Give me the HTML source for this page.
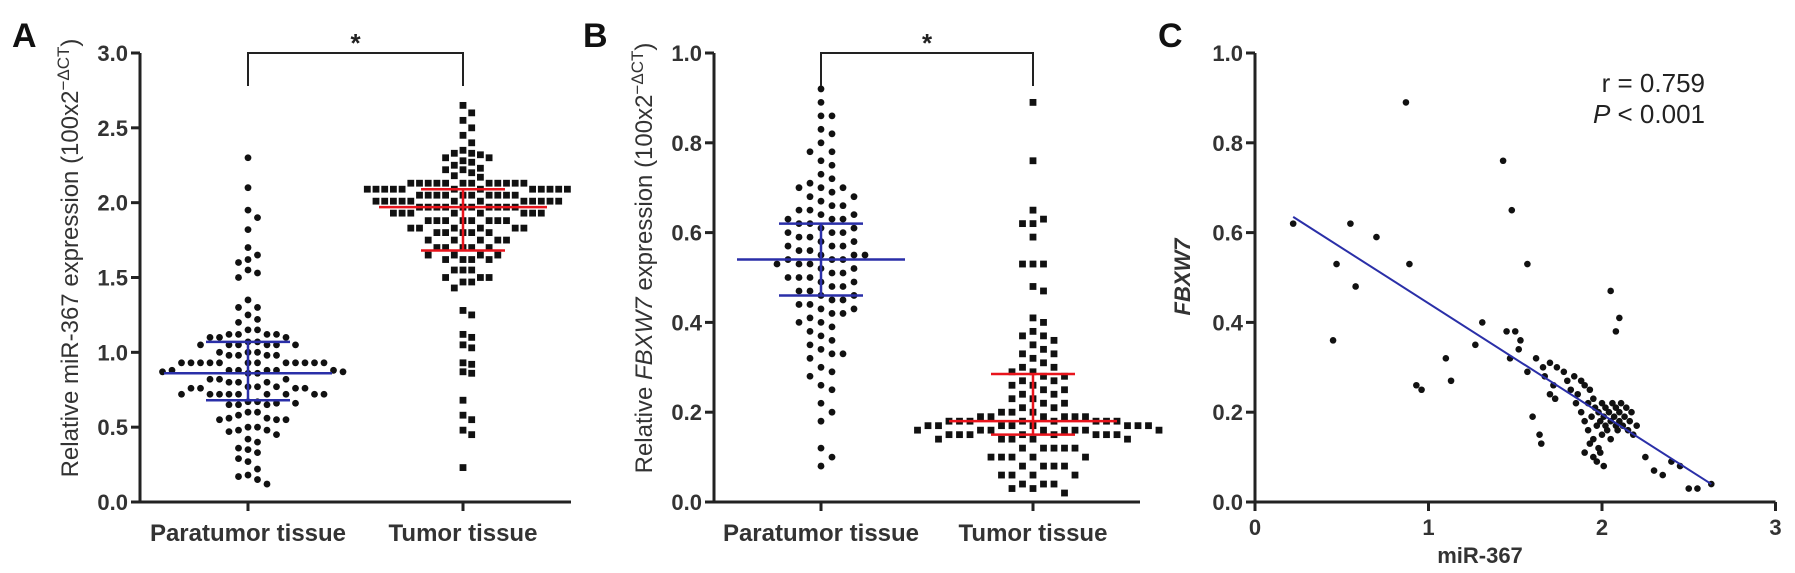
<!DOCTYPE html>
<html><head><meta charset="utf-8">
<style>
html,body{margin:0;padding:0;background:#fff;}
svg{display:block;font-family:"Liberation Sans",Arial,sans-serif;}
</style></head>
<body>
<svg id="fig" width="1795" height="573" viewBox="0 0 1795 573">
<g id="layer"></g>
</svg>
<script>
// ---------- DATA ----------
const aCategories = ["Paratumor tissue", "Tumor tissue"];
const aTicks = ["0.0","0.5","1.0","1.5","2.0","2.5","3.0"];
const aPara = [2.30,2.10,1.95,1.90,1.82,1.70,1.65,1.62,1.60,1.55,1.53,1.50,1.35,1.30,1.30,1.25,1.22,1.20,
1.15,1.15,1.12,1.12,1.12,1.12,1.10,1.10,1.10,1.07,1.07,1.05,1.05,1.05,1.05,1.05,1.05,
1.00,1.00,1.00,0.98,0.98,0.98,0.98,0.93,0.93,0.93,0.93,0.93,0.93,0.93,0.93,0.93,0.93,0.93,0.93,
0.88,0.88,0.88,0.88,0.88,0.88,0.87,0.87,0.86,0.86,0.82,0.82,0.82,0.80,0.80,0.80,
0.77,0.77,0.77,0.76,0.76,0.76,0.76,0.72,0.72,0.72,0.72,0.72,0.72,0.72,0.72,0.72,
0.67,0.67,0.66,0.66,0.65,0.65,0.65,0.60,0.60,0.58,0.56,0.56,0.55,0.55,0.55,
0.50,0.50,0.48,0.48,0.47,0.45,0.42,0.40,0.36,0.35,0.33,0.29,0.27,0.22,0.18,0.17,0.15,0.12];
const aTumor = [2.65,2.60,2.55,2.50,2.45,2.40,2.35,2.33,2.33,2.32,2.30,2.30,2.28,2.27,2.25,2.23,2.22,2.22,2.20,2.18,2.17,
2.13,2.13,2.13,2.13,2.13,2.13,2.13,2.13,2.13,2.13,2.13,2.13,
2.09,2.09,2.09,2.09,2.09,2.09,2.09,2.09,2.09,2.09,2.09,2.09,
2.05,2.05,2.05,2.05,2.05,2.05,2.05,2.05,2.05,2.05,
2.01,2.01,2.01,2.01,2.01,2.01,2.01,2.01,2.01,2.01,2.01,2.01,
1.97,1.97,1.97,1.97,1.97,1.97,1.97,1.97,1.97,1.97,
1.93,1.93,1.93,1.93,1.93,1.93,1.93,1.93,1.88,1.88,1.88,1.88,1.88,1.88,1.88,1.88,
1.83,1.83,1.83,1.83,1.83,1.83,1.80,1.80,1.80,1.80,1.80,1.75,1.75,1.75,1.75,1.75,
1.70,1.70,1.70,1.70,1.70,1.65,1.65,1.65,1.65,1.62,1.62,1.62,1.62,1.55,1.55,1.55,1.50,1.50,1.50,1.47,1.47,1.43,
1.28,1.25,1.12,1.10,1.05,1.03,0.93,0.92,0.87,0.86,0.68,0.58,0.55,0.48,0.45,0.23];
const aParaStats = [0.68, 0.86, 1.07];   // q1, median, q3
const aTumorStats = [1.68, 1.97, 2.09];

const bTicks = ["0.0","0.2","0.4","0.6","0.8","1.0"];
const bPara = [0.92,0.89,0.86,0.86,0.83,0.82,0.80,0.78,0.78,0.76,0.75,0.73,0.72,0.71,0.70,0.70,0.70,0.69,0.68,0.68,0.67,0.66,0.66,0.65,0.65,0.64,0.64,0.63,0.63,0.63,0.62,0.62,0.61,0.61,0.60,0.60,0.60,0.59,0.59,0.58,0.58,0.57,0.57,0.57,0.56,0.56,0.55,0.55,0.55,0.54,0.54,0.54,0.53,0.53,0.53,0.52,0.52,0.51,0.51,0.50,0.50,0.50,0.49,0.49,0.48,0.48,0.47,0.47,0.46,0.46,0.45,0.45,0.44,0.44,0.43,0.43,0.42,0.42,0.41,0.40,0.40,0.39,0.38,0.37,0.36,0.35,0.34,0.33,0.33,0.32,0.30,0.29,0.28,0.26,0.25,0.22,0.20,0.18,0.12,0.10,0.08];
const bTumor = [0.89,0.76,0.65,0.63,0.62,0.62,0.59,0.53,0.53,0.53,0.48,0.47,0.41,0.40,0.38,0.37,0.37,0.36,0.35,0.34,0.33,0.33,0.32,0.31,0.30,0.30,0.29,0.29,0.28,0.28,0.27,0.27,0.26,0.26,0.25,0.25,0.24,0.24,0.23,0.23,0.22,0.22,0.21,0.21,0.20,0.20,0.20,
0.19,0.19,0.19,0.19,0.19,0.19,0.18,0.18,0.18,0.18,0.18,0.18,0.18,0.18,0.17,0.17,0.17,0.17,0.17,0.17,0.17,0.17,
0.16,0.16,0.16,0.16,0.16,0.16,0.16,0.16,0.15,0.15,0.15,0.15,0.15,0.15,0.15,0.15,0.14,0.14,0.14,0.14,0.14,
0.12,0.12,0.12,0.12,0.12,0.10,0.10,0.10,0.10,0.10,0.08,0.08,0.08,0.08,0.06,0.06,0.06,0.06,0.04,0.04,0.04,0.03,0.03,0.02];
const bParaStats = [0.46, 0.54, 0.62];
const bTumorStats = [0.15, 0.18, 0.285];

const cXTicks = ["0","1","2","3"];
const cYTicks = ["0.0","0.2","0.4","0.6","0.8","1.0"];
const cX = [0.22,0.45,0.47,0.55,0.58,0.70,0.87,0.89,0.93,0.96,1.10,1.13,1.27,1.31,1.43,1.45,1.48,1.47,1.50,1.52,1.53,1.57,1.57,1.62,1.60,1.64,1.65,1.66,1.67,1.70,1.70,1.72,1.74,1.73,
1.78,1.80,1.82,1.84,1.85,1.86,1.88,1.88,1.90,1.90,1.92,1.92,1.93,1.94,1.95,1.95,1.96,1.97,1.98,1.98,1.99,2.00,2.00,2.01,2.02,2.02,2.03,2.04,2.05,2.05,2.06,2.07,2.08,2.08,2.09,2.10,2.10,2.11,2.12,2.13,2.14,2.15,2.16,2.17,2.18,2.20,1.95,1.97,1.99,2.01,1.90,1.93,
2.05,2.08,2.10,2.25,2.30,2.35,2.40,2.45,2.50,2.55,2.63];
const cY = [0.62,0.36,0.53,0.62,0.48,0.59,0.89,0.53,0.26,0.25,0.32,0.27,0.35,0.40,0.76,0.38,0.65,0.32,0.38,0.34,0.36,0.53,0.29,0.32,0.19,0.15,0.13,0.30,0.28,0.24,0.31,0.26,0.30,0.23,
0.29,0.27,0.25,0.28,0.22,0.24,0.27,0.20,0.26,0.18,0.22,0.16,0.25,0.19,0.23,0.14,0.21,0.17,0.20,0.12,0.18,0.22,0.15,0.19,0.21,0.17,0.16,0.20,0.18,0.14,0.22,0.19,0.17,0.21,0.16,0.18,0.20,0.22,0.17,0.19,0.21,0.16,0.18,0.20,0.15,0.17,0.10,0.09,0.11,0.08,0.11,0.13,
0.47,0.38,0.41,0.10,0.07,0.06,0.09,0.08,0.03,0.03,0.04];
const cFit = [0.22, 0.635, 2.63, 0.04]; // x1,y1,x2,y2
const cStats = ["r = 0.759", "< 0.001"];

// ---------- HELPERS ----------
const NS = "http://www.w3.org/2000/svg";
const layer = document.getElementById("layer");
function mk(tag, attrs, parent){
  const e = document.createElementNS(NS, tag);
  for (const k in attrs) e.setAttribute(k, attrs[k]);
  (parent||layer).appendChild(e);
  return e;
}
const AX = "#222";
const Y0 = 502, Y1 = 53;

function swarm(vals, cx, yfn, d, f){
  const sorted = vals.slice().sort((a,b)=>b-a);
  const placed = [];
  sorted.forEach(v=>{
    const y = yfn(v);
    for (let k=0;k<80;k++){
      const off = k===0?0:(k%2? Math.ceil(k/2): -Math.ceil(k/2))*d;
      const x = cx+off;
      if (placed.every(p=>(p.x-x)*(p.x-x)+(p.y-y)*(p.y-y) >= d*d*f)){ placed.push({x,y,v}); break; }
    }
  });
  return placed;
}

function yAxis(g, x, ticks, yfn, vals){
  const ax = mk("line",{x1:x,y1:Y0,x2:x,y2:Y1,stroke:AX,"stroke-width":3},g);
  
  
  ticks.forEach((t,i)=>{
    const y = yfn(vals[i]);
    const tk = mk("line",{x1:x-9,y1:y,x2:x,y2:y,stroke:AX,"stroke-width":3},g);
    
    
    const tx = mk("text",{x:x-12,y:y+8,"text-anchor":"end","font-size":22,"font-weight":"bold",fill:"#333"},g);
    tx.textContent = t;
    
    
  });
}

function dotPanel(name, xL, xR, cats, cxs, ticks, tickVals, yfn, paraVals, tumVals, paraStats, tumStats, half, sw){
  const g = mk("g",{});
  
  
  yAxis(g, xL, ticks, yfn, tickVals);
  const xa = mk("line",{x1:xL,y1:Y0,x2:xR,y2:Y0,stroke:AX,"stroke-width":3},g);
  
  
  cats.forEach((c,i)=>{
    const tk = mk("line",{x1:cxs[i],y1:Y0,x2:cxs[i],y2:Y0+9,stroke:AX,"stroke-width":3},g);
    
    
    const t = mk("text",{x:cxs[i],y:541,"text-anchor":"middle","font-size":24,"font-weight":"bold",fill:"#333"},g);
    t.textContent = c;
    
    
  });
  swarm(paraVals, cxs[0], yfn, sw[0], sw[1]).forEach(p=>{
    const c = mk("circle",{cx:p.x,cy:p.y,r:3.4,fill:"#111"},g);
    
    
  });
  swarm(tumVals, cxs[1], yfn, sw[2], sw[3]).forEach(p=>{
    const r = mk("rect",{x:p.x-3.4,y:p.y-3.4,width:6.8,height:6.8,fill:"#111"},g);
    
    
  });
  [[paraStats,cxs[0],"#2a2fa8"],[tumStats,cxs[1],"#e8141c"]].forEach(([s,cx,col])=>{
    const m = mk("line",{x1:cx-half,x2:cx+half,y1:yfn(s[1]),y2:yfn(s[1]),stroke:col,"stroke-width":2.5},g);
    
    
    const v = mk("line",{x1:cx,x2:cx,y1:yfn(s[0]),y2:yfn(s[2]),stroke:col,"stroke-width":2.5},g);
    
    
    [0,2].forEach(j=>{
      const q = mk("line",{x1:cx-half/2,x2:cx+half/2,y1:yfn(s[j]),y2:yfn(s[j]),stroke:col,"stroke-width":2.5},g);
      
      
    });
  });
  const br = mk("path",{d:`M${cxs[0]},86 V53 H${cxs[1]} V86`,fill:"none",stroke:AX,"stroke-width":2},g);
  
  
  const st = mk("text",{x:(cxs[0]+cxs[1])/2,y:52,"text-anchor":"middle","font-size":26,"font-weight":"bold",fill:"#222"},g);
  st.textContent = "*";
  
  
  return g;
}

// ---------- PANEL A ----------
const yA = v => Y0 - (v/3)*(Y0-Y1);
dotPanel("panel-a", 140, 571, aCategories, [248,463], aTicks, [0,0.5,1,1.5,2,2.5,3], yA, aPara, aTumor, aParaStats, aTumorStats, 84, [9.5,0.9,8.7,0.85]);
// ---------- PANEL B ----------
const yB = v => Y0 - v*(Y0-Y1);
dotPanel("panel-b", 714, 1140, aCategories, [821,1033], bTicks, [0,0.2,0.4,0.6,0.8,1.0], yB, bPara, bTumor, bParaStats, bTumorStats, 84, [11,1.0,10.5,1.0]);

// ---------- PANEL C ----------
const cg = mk("g",{});


const xC = v => 1255 + v*173.5;
yAxis(cg, 1255, cYTicks, yB, [0,0.2,0.4,0.6,0.8,1.0]);
const cxa = mk("line",{x1:1255,y1:Y0,x2:xC(3),y2:Y0,stroke:AX,"stroke-width":3},cg);


cXTicks.forEach((t,i)=>{
  const tk = mk("line",{x1:xC(i),y1:Y0,x2:xC(i),y2:Y0+9,stroke:AX,"stroke-width":3},cg);
  
  
  const tx = mk("text",{x:xC(i),y:535,"text-anchor":"middle","font-size":22,"font-weight":"bold",fill:"#333"},cg);
  tx.textContent = t;
  
  
});
cX.forEach((x,i)=>{
  const c = mk("circle",{cx:xC(x),cy:yB(cY[i]),r:3.3,fill:"#111"},cg);
  
  
});
const fit = mk("line",{x1:xC(cFit[0]),y1:yB(cFit[1]),x2:xC(cFit[2]),y2:yB(cFit[3]),stroke:"#2a2fa8","stroke-width":2},cg);


const r1 = mk("text",{x:1705,y:92,"text-anchor":"end","font-size":26,fill:"#222"},cg);
r1.textContent = cStats[0];


const r2 = mk("text",{x:1705,y:123,"text-anchor":"end","font-size":26,fill:"#222"},cg);


const pI = mk("tspan",{"font-style":"italic"},r2); pI.textContent = "P";
const pR = mk("tspan",{},r2); pR.textContent = " " + cStats[1];
const cxt = mk("text",{x:1480,y:563,"text-anchor":"middle","font-size":22,"font-weight":"bold",fill:"#333"},cg);
cxt.textContent = "miR-367";


const cyt = mk("text",{x:0,y:0,"text-anchor":"middle","font-size":22,"font-weight":"bold","font-style":"italic",fill:"#333",transform:"translate(1190,277) rotate(-90)"},cg);
cyt.textContent = "FBXW7";



// ---------- Y titles A/B ----------
function yTitle(cx, geneText, italic){
  const t = mk("text",{x:0,y:0,"text-anchor":"middle","font-size":24,fill:"#333",transform:`translate(${cx},258) rotate(-90)`});
  
  
  const a = mk("tspan",{},t); a.textContent = "Relative ";
  const b = mk("tspan",italic?{"font-style":"italic"}:{},t); b.textContent = geneText;
  const c = mk("tspan",{},t); c.textContent = " expression (100x2";
  const d = mk("tspan",{"baseline-shift":"super","font-size":17},t); d.textContent = "\u2212\u0394CT";
  const e = mk("tspan",{},t); e.textContent = ")";
}
yTitle(78, "miR-367", false);
yTitle(652, "FBXW7", true);

// ---------- Panel letters ----------
[["A",12],["B",583],["C",1158]].forEach(([L,x])=>{
  const t = mk("text",{x:x,y:47,"font-size":34,"font-weight":"bold",fill:"#111"});
  t.textContent = L;
  
  
});
</script>
</body></html>
